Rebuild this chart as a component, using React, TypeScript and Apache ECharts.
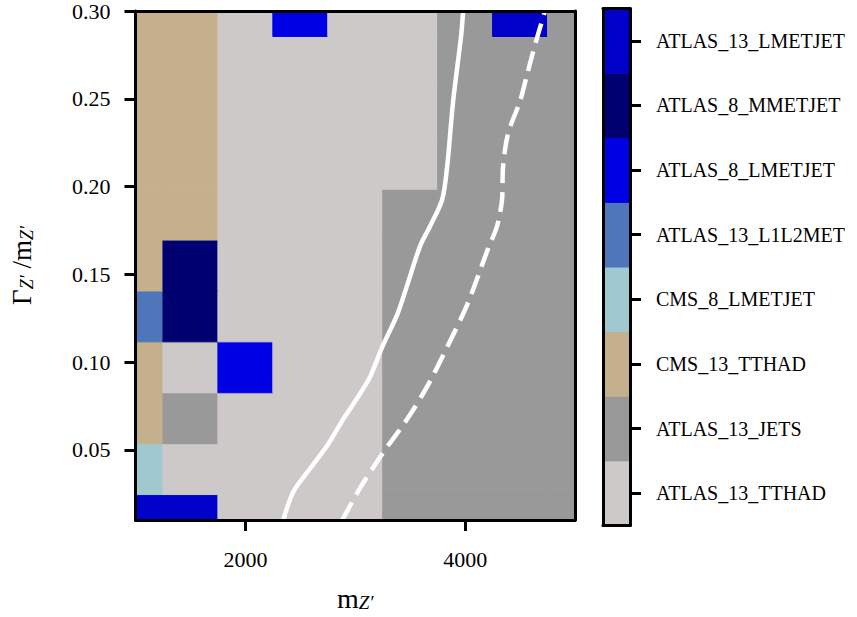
import React, { useEffect, useRef } from "react";
import * as echarts from "echarts";

// ---------- data ----------
const categories = [
  "ATLAS_13_TTHAD",
  "ATLAS_13_JETS",
  "CMS_13_TTHAD",
  "CMS_8_LMETJET",
  "ATLAS_13_L1L2MET",
  "ATLAS_8_LMETJET",
  "ATLAS_8_MMETJET",
  "ATLAS_13_LMETJET",
];
const categoryColors = [
  "#cdc9c9",
  "#999999",
  "#c4b08c",
  "#9fc9cf",
  "#4f75bb",
  "#0000e4",
  "#000070",
  "#0000c8",
];

const massValues = [1000, 1500, 2000, 2500, 3000, 3500, 4000, 4500, 5000];
const widthValues = [0.01, 0.039, 0.068, 0.097, 0.126, 0.155, 0.184, 0.213, 0.242, 0.271, 0.3];

// dominant analysis index (into categories), one row per width value, one column per mass value
const dominantAnalysis = [
  [7, 7, 0, 0, 0, 1, 1, 1, 1],
  [3, 0, 0, 0, 0, 1, 1, 1, 1],
  [2, 1, 0, 0, 0, 1, 1, 1, 1],
  [2, 0, 5, 0, 0, 1, 1, 1, 1],
  [4, 6, 0, 0, 0, 1, 1, 1, 1],
  [2, 6, 0, 0, 0, 1, 1, 1, 1],
  [2, 2, 0, 0, 0, 1, 1, 1, 1],
  [2, 2, 0, 0, 0, 0, 1, 1, 1],
  [2, 2, 0, 0, 0, 0, 1, 1, 1],
  [2, 2, 0, 0, 0, 0, 1, 1, 1],
  [2, 2, 0, 5, 0, 0, 1, 7, 1],
];

const limitSolid = [
  [2345, 0.01], [2436, 0.026], [2591, 0.0395], [2745, 0.0524], [2891, 0.0675],
  [3045, 0.0821], [3136, 0.0917], [3245, 0.1085], [3382, 0.127], [3473, 0.1438],
  [3591, 0.1662], [3682, 0.1775], [3791, 0.1926], [3836, 0.2111], [3891, 0.2487],
  [3964, 0.2862], [3982, 0.3],
];
const limitDashed = [
  [2882, 0.01], [3045, 0.0283], [3255, 0.0485], [3473, 0.0675], [3655, 0.0861],
  [3836, 0.1085], [4018, 0.1326], [4209, 0.1646], [4291, 0.1775], [4336, 0.1926],
  [4345, 0.2111], [4391, 0.2302], [4500, 0.2487], [4564, 0.2638], [4636, 0.2807],
  [4727, 0.3],
];

const xTicks = [2000, 4000];
const yTicks = [0.05, 0.1, 0.15, 0.2, 0.25, 0.3];

const X_MIN = 1000;
const X_MAX = 5000;
const Y_MIN = 0.01;
const Y_MAX = 0.3;

const FONT = "Liberation Serif";

export default function App() {
  const ref = useRef<HTMLDivElement>(null);

  useEffect(() => {
    if (!ref.current) return;
    const chart = echarts.init(ref.current, null, { renderer: "svg" });

    const cells: number[][] = [];
    widthValues.forEach((y, r) => {
      massValues.forEach((x, c) => {
        cells.push([x, y, dominantAnalysis[r][c]]);
      });
    });
    const hx = (massValues[1] - massValues[0]) / 2;
    const hy = (widthValues[1] - widthValues[0]) / 2;

    const frameLine = { show: true, lineStyle: { color: "#000", width: 3 } };
    const noLabel = { show: false };
    const noTick = { show: false };

    const option: any = {
      animation: false,
      backgroundColor: "#fff",
      grid: [
        { left: 135, top: 8.5, width: 440, height: 517, containLabel: false },
        { left: 603, top: 8.5, width: 27, height: 517, containLabel: false },
      ],
      xAxis: [
        {
          type: "value",
          gridIndex: 0,
          min: X_MIN,
          max: X_MAX,
          z: 10,
          axisLine: frameLine,
          axisTick: { show: true, length: 11, lineStyle: { width: 3, color: "#000" }, customValues: xTicks },
          axisLabel: {
            show: true,
            customValues: xTicks,
            margin: 28,
            fontFamily: FONT,
            fontSize: 22,
            color: "#000",
            formatter: (v: number) => String(v),
          },
          splitLine: { show: false },
          name: "{m|m}{s|Z′}",
          nameLocation: "middle",
          nameGap: 64,
          nameTextStyle: {
            rich: {
              m: { fontFamily: FONT, fontSize: 28, color: "#000", lineHeight: 28 },
              s: { fontFamily: FONT, fontSize: 19, fontStyle: "italic", color: "#000", lineHeight: 28, verticalAlign: "bottom" },
            },
          },
        },
        {
          type: "value",
          gridIndex: 0,
          position: "top",
          min: X_MIN,
          max: X_MAX,
          z: 10,
          axisLine: frameLine,
          axisTick: noTick,
          axisLabel: noLabel,
          splitLine: { show: false },
        },
        {
          type: "category",
          gridIndex: 1,
          data: [""],
          z: 10,
          axisLine: frameLine,
          axisTick: noTick,
          axisLabel: noLabel,
        },
        {
          type: "category",
          gridIndex: 1,
          position: "top",
          data: [""],
          z: 10,
          axisLine: frameLine,
          axisTick: noTick,
          axisLabel: noLabel,
        },
      ],
      yAxis: [
        {
          type: "value",
          gridIndex: 0,
          min: Y_MIN,
          max: Y_MAX,
          z: 10,
          axisLine: frameLine,
          axisTick: { show: true, length: 11, lineStyle: { width: 3, color: "#000" }, customValues: yTicks },
          axisLabel: {
            show: true,
            customValues: yTicks,
            margin: 25,
            fontFamily: FONT,
            fontSize: 22,
            color: "#000",
            formatter: (v: number) => v.toFixed(2),
          },
          splitLine: { show: false },
          name: "{g|Γ}{s|Z′}{g| /m}{s|Z′}",
          nameLocation: "middle",
          nameGap: 100,
          nameTextStyle: {
            rich: {
              g: { fontFamily: FONT, fontSize: 27, color: "#000", lineHeight: 28 },
              s: { fontFamily: FONT, fontSize: 18, fontStyle: "italic", color: "#000", lineHeight: 28, verticalAlign: "bottom" },
            },
          },
        },
        {
          type: "value",
          gridIndex: 0,
          position: "right",
          min: Y_MIN,
          max: Y_MAX,
          z: 10,
          axisLine: frameLine,
          axisTick: noTick,
          axisLabel: noLabel,
          splitLine: { show: false },
        },
        {
          type: "category",
          gridIndex: 1,
          position: "right",
          data: categories,
          z: 10,
          axisLine: frameLine,
          axisTick: { show: true, alignWithLabel: true, length: 11, lineStyle: { width: 3, color: "#000" } },
          axisLabel: { show: true, margin: 26, fontFamily: FONT, fontSize: 20, color: "#000" },
        },
        {
          type: "category",
          gridIndex: 1,
          position: "left",
          data: categories,
          z: 10,
          axisLine: frameLine,
          axisTick: noTick,
          axisLabel: noLabel,
        },
      ],
      series: [
        {
          type: "custom",
          xAxisIndex: 0,
          yAxisIndex: 0,
          data: cells,
          encode: { x: 0, y: 1 },
          z: 2,
          renderItem: (params: any, api: any) => {
            const x = api.value(0);
            const y = api.value(1);
            const c = api.value(2);
            const p0 = api.coord([Math.max(x - hx, X_MIN), Math.max(y - hy, Y_MIN)]);
            const p1 = api.coord([Math.min(x + hx, X_MAX), Math.min(y + hy, Y_MAX)]);
            return {
              type: "rect",
              shape: {
                x: Math.min(p0[0], p1[0]),
                y: Math.min(p0[1], p1[1]),
                width: Math.abs(p1[0] - p0[0]),
                height: Math.abs(p1[1] - p0[1]),
              },
              style: { fill: categoryColors[c], stroke: categoryColors[c], lineWidth: 1 },
            };
          },
        },
        {
          type: "line",
          xAxisIndex: 0,
          yAxisIndex: 0,
          data: limitSolid,
          showSymbol: false,
          smooth: 0.3,
          z: 4,
          lineStyle: { color: "#fff", width: 4.5 },
        },
        {
          type: "line",
          xAxisIndex: 0,
          yAxisIndex: 0,
          data: limitDashed,
          showSymbol: false,
          smooth: 0.3,
          z: 4,
          lineStyle: { color: "#fff", width: 4.5, type: [20, 9] },
        },
        {
          type: "custom",
          xAxisIndex: 2,
          yAxisIndex: 2,
          data: categories.map((_, i) => [0, i]),
          encode: { x: 0, y: 1 },
          z: 2,
          renderItem: (params: any, api: any) => {
            const idx = api.value(1);
            const p = api.coord([0, idx]);
            const band = api.size([0, 1])[1];
            return {
              type: "rect",
              shape: {
                x: params.coordSys.x,
                y: p[1] - band / 2,
                width: params.coordSys.width,
                height: band,
              },
              style: { fill: categoryColors[idx], stroke: categoryColors[idx], lineWidth: 1 },
            };
          },
        },
      ],
    };

    chart.setOption(option);
    return () => chart.dispose();
  }, []);

  return (
    <div
      ref={ref}
      style={{ position: "fixed", left: 0, top: 0, width: 857, height: 617, background: "#fff" }}
    />
  );
}
